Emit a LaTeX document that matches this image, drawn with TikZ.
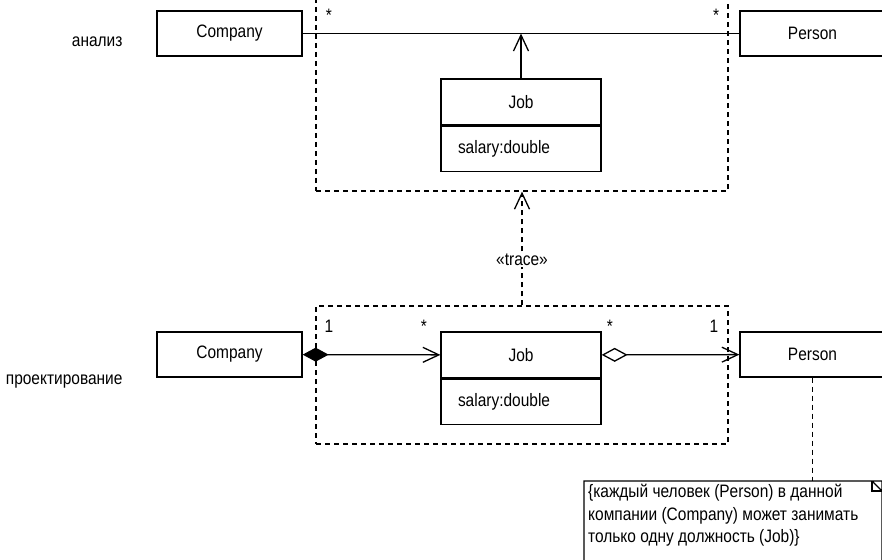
\documentclass[tikz,border=0pt]{standalone}
\usepackage{fontspec}
\setmainfont{Liberation Sans}[FakeStretch=0.86]
\usetikzlibrary{arrows.meta,positioning,calc}
\tikzset{
  every node/.style = {font=\fontsize{18pt}{22.5pt}\selectfont},
  cls/.style   = {draw, line width=1.3pt, minimum width=145pt,
                  minimum height=45pt, inner sep=0pt},
  jobname/.style = {draw, line width=1.3pt, minimum width=160pt,
                  minimum height=46pt, inner sep=0pt},
  jobattr/.style = {draw, line width=1.3pt, text width=126pt,
                  inner xsep=17pt, inner ysep=0pt, minimum height=45pt,
                  align=left},
  frame/.style = {draw, line width=1.3pt, dash pattern=on 5pt off 4pt,
                  minimum width=412pt},
  level/.style = {anchor=east},
  mult/.style  = {inner sep=0pt},
  assoc/.style = {line width=1.3pt},
  nav/.style   = {assoc, -{Straight Barb[length=16pt,width=15pt]}},
  trace/.style = {nav, dash pattern=on 5pt off 4pt},
  comp/.style  = {nav, {Diamond[length=26pt,width=14pt]}-{Straight Barb[length=16pt,width=15pt]}},
  aggr/.style  = {nav, {Diamond[open,length=26pt,width=14pt]}-{Straight Barb[length=16pt,width=15pt]}},
}

\begin{document}
\begin{tikzpicture}[x=1pt, y=-1pt]
  \clip (0,0) rectangle (882,559);
  % analysis level
  \node[level] (lblA) at (126,42) {анализ};
  \node[cls] (compA) at (229.5,33.5) {Company};
  \node[cls] (persA) at (812.5,33.5) {Person};
  \node[jobname] (jobA) at (521,102) {Job};
  \node[jobattr, below=0pt of jobA] (attrA) {salary:double};
  \node[frame, minimum height=211pt] (frameA) at (522,85.5) {};
  \node[mult] (mA1) at (329,15) {*};
  \node[mult] (mA2) at (716,15) {*};
  \draw[assoc] (compA) -- (persA);
  \draw[nav] (jobA.north) -- (jobA.north |- compA.east);

  % design level
  \node[level] (lblB) at (126,382) {проектирование};
  \node[cls] (compB) at (229.5,354.5) {Company};
  \node[cls] (persB) at (812.5,354.5) {Person};
  \node[jobname] (jobB) at (521,355) {Job};
  \node[jobattr, below=0pt of jobB] (attrB) {salary:double};
  \node[frame, minimum height=138pt] (frameB) at (522,375) {};
  \node[mult] (mB1) at (329,326) {1};
  \node[mult] (mB2) at (424,326) {*};
  \node[mult] (mB3) at (610,326) {*};
  \node[mult] (mB4) at (714,326) {1};
  \draw[comp] (compB) -- (jobB);
  \draw[aggr] (jobB) -- (persB);

  % trace dependency
  \draw[trace] (frameB.north) -- node[pos=0.4, fill=white, inner sep=1pt] (lblT) {«trace»} (frameA.south);

  % constraint note
  \node[anchor=north west, align=left, inner xsep=4pt, inner ysep=3pt] (noteC) at (584,481)
    {\{каждый человек (Person) в данной\\
     компании (Company) может занимать\\
     только одну должность (Job)\}};
  \coordinate (earA) at (872,481);
  \coordinate (earB) at (882,491);
  \draw[assoc] (earB) |- (noteC.north west) -- (584,575) -| (earB) -- (earA);
  \draw[assoc] (earA) |- (earB);
  \draw[assoc, dash pattern=on 5pt off 4pt] (persB.south) -- (persB.south |- noteC.north);
\end{tikzpicture}
\end{document}
